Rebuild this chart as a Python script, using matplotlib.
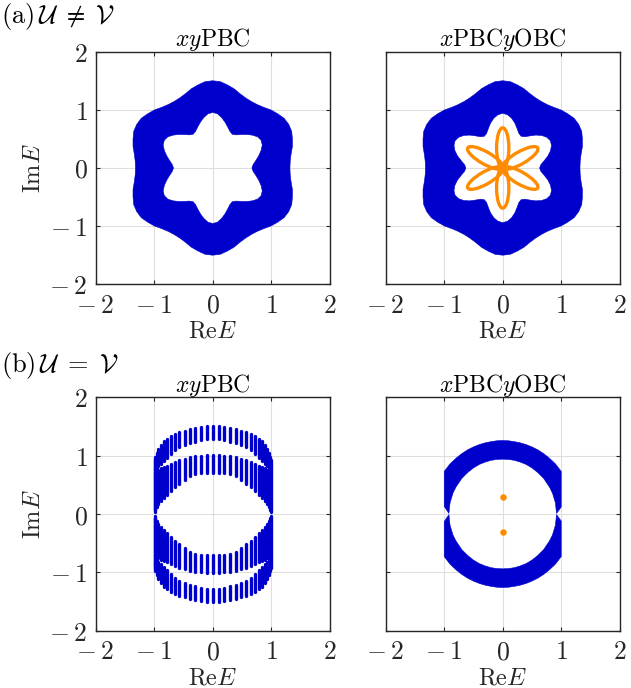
import numpy as np
import matplotlib
matplotlib.use("Agg")
import matplotlib.pyplot as plt
from matplotlib.path import Path
from matplotlib.patches import PathPatch, Ellipse

plt.rcParams["mathtext.fontset"] = "cm"

# === Data ===
ticks = [-2, -1, 0, 1, 2]
tick_labels = [r"$-\:2$", r"$-\:1$", "$0$", "$1$", "$2$"]

# (a) ring boundaries, radius vs polar angle (deg)
angles = np.arange(0, 360, 5)
outer_r = [
    1.32, 1.33, 1.36, 1.41, 1.45, 1.49, 1.50, 1.49, 1.45, 1.41, 1.36, 1.33,
    1.32, 1.33, 1.36, 1.41, 1.45, 1.49, 1.50, 1.49, 1.45, 1.41, 1.36, 1.33,
    1.32, 1.33, 1.36, 1.41, 1.45, 1.49, 1.50, 1.49, 1.45, 1.41, 1.36, 1.33,
    1.32, 1.33, 1.36, 1.41, 1.45, 1.49, 1.50, 1.49, 1.45, 1.41, 1.36, 1.33,
    1.32, 1.33, 1.36, 1.41, 1.45, 1.49, 1.50, 1.49, 1.45, 1.41, 1.36, 1.33,
    1.32, 1.33, 1.36, 1.41, 1.45, 1.49, 1.50, 1.49, 1.45, 1.41, 1.36, 1.33,
]
hole_r_pbc = [
    0.67, 0.695, 0.75, 0.815, 0.88, 0.935, 0.955, 0.935, 0.88, 0.815, 0.75, 0.695,
    0.67, 0.695, 0.75, 0.815, 0.88, 0.935, 0.955, 0.935, 0.88, 0.815, 0.75, 0.695,
    0.67, 0.695, 0.75, 0.815, 0.88, 0.935, 0.955, 0.935, 0.88, 0.815, 0.75, 0.695,
    0.67, 0.695, 0.75, 0.815, 0.88, 0.935, 0.955, 0.935, 0.88, 0.815, 0.75, 0.695,
    0.67, 0.695, 0.75, 0.815, 0.88, 0.935, 0.955, 0.935, 0.88, 0.815, 0.75, 0.695,
    0.67, 0.695, 0.75, 0.815, 0.88, 0.935, 0.955, 0.935, 0.88, 0.815, 0.75, 0.695,
]
hole_r_obc = [
    0.63, 0.655, 0.72, 0.80, 0.87, 0.92, 0.94, 0.92, 0.87, 0.80, 0.72, 0.655,
    0.63, 0.655, 0.72, 0.80, 0.87, 0.92, 0.94, 0.92, 0.87, 0.80, 0.72, 0.655,
    0.63, 0.655, 0.72, 0.80, 0.87, 0.92, 0.94, 0.92, 0.87, 0.80, 0.72, 0.655,
    0.63, 0.655, 0.72, 0.80, 0.87, 0.92, 0.94, 0.92, 0.87, 0.80, 0.72, 0.655,
    0.63, 0.655, 0.72, 0.80, 0.87, 0.92, 0.94, 0.92, 0.87, 0.80, 0.72, 0.655,
    0.63, 0.655, 0.72, 0.80, 0.87, 0.92, 0.94, 0.92, 0.87, 0.80, 0.72, 0.655,
]
# (a) OBC skin-mode petals
petal_angles = [30, 90, 150, 210, 270, 330]
petal_length = 0.69
petal_width = 0.21

# (b) xyPBC: vertical bars (x >= 0 half, spectrum symmetric)
bar_x = [0.0, 0.1, 0.2, 0.3, 0.39, 0.48, 0.57, 0.65, 0.72, 0.79, 0.84, 0.89, 0.93, 0.96, 0.98, 0.995]
outer_lo = [1.28, 1.28, 1.26, 1.24, 1.21, 1.18, 1.14, 1.09, 1.03, 0.96, 0.90, 0.86, 0.82, 0.78, 0.74, 0.70]
outer_hi = [1.50, 1.50, 1.49, 1.47, 1.45, 1.43, 1.40, 1.37, 1.34, 1.29, 1.25, 1.19, 1.12, 1.05, 0.98, 0.93]
inner_lo = [0.71, 0.71, 0.70, 0.68, 0.65, 0.58, 0.52, 0.46, 0.40, 0.33, 0.28, 0.22, 0.17, 0.12, 0.07, 0.03]
inner_hi = [1.01, 1.01, 1.00, 0.99, 0.97, 0.95, 0.92, 0.89, 0.86, 0.83, 0.80, 0.78, 0.76, 0.74, 0.72, 0.70]

# (b) xPBCyOBC: upper band outline (lower band is its mirror)
band_x = [-1.0, -0.9, -0.8, -0.7, -0.6, -0.5, -0.4, -0.3, -0.2, -0.1, 0.0,
          0.1, 0.2, 0.3, 0.4, 0.5, 0.6, 0.7, 0.8, 0.9, 1.0,
          1.0, 0.92,
          0.9, 0.85, 0.8, 0.7, 0.6, 0.5, 0.4, 0.3, 0.2, 0.1, 0.0,
          -0.1, -0.2, -0.3, -0.4, -0.5, -0.6, -0.7, -0.8, -0.85, -0.9,
          -0.92, -1.0]
band_y = [0.73, 0.86, 0.955, 1.035, 1.10, 1.15, 1.19, 1.22, 1.24, 1.255, 1.26,
          1.255, 1.24, 1.22, 1.19, 1.15, 1.10, 1.035, 0.955, 0.86, 0.73,
          0.12, 0.01,
          0.195, 0.36, 0.46, 0.61, 0.71, 0.79, 0.85, 0.89, 0.92, 0.935, 0.94,
          0.935, 0.92, 0.89, 0.85, 0.79, 0.71, 0.61, 0.46, 0.36, 0.195,
          0.01, 0.13]
dots_x = [0.0, 0.0]
dots_y = [0.30, -0.30]

blue = "#0000CC"
orange = "#FF8C00"
dark = "#262626"


def ring(ax, r_out, r_in):
    th = np.deg2rad(angles)
    ro, ri = np.asarray(r_out), np.asarray(r_in)
    outer = np.c_[ro * np.cos(th), ro * np.sin(th)]
    inner = np.c_[ri * np.cos(th), ri * np.sin(th)][::-1]
    n = len(th)
    verts = np.vstack([outer, outer[:1], inner, inner[:1]])
    codes = ([Path.MOVETO] + [Path.LINETO] * (n - 1) + [Path.CLOSEPOLY]) * 2
    ax.add_patch(PathPatch(Path(verts, codes), facecolor=blue, edgecolor=blue, lw=0.4, zorder=2))


def style(ax, title, left_labels):
    ax.set_xlim(-2, 2)
    ax.set_ylim(-2, 2)
    ax.set_xticks(ticks)
    ax.set_yticks(ticks)
    ax.set_xticklabels(tick_labels)
    ax.set_yticklabels(tick_labels)
    ax.tick_params(direction="in", top=True, right=True, length=3, width=0.8,
                   labelsize=18.5, pad=6, colors=dark, labelleft=left_labels)
    ax.grid(True, color="#DEDEDE", linewidth=0.8)
    ax.set_axisbelow(True)
    for s in ax.spines.values():
        s.set_color(dark)
        s.set_linewidth(1.0)
    ax.set_title(title, fontsize=17, pad=4, color="black")
    ax.set_xlabel(r"$\mathrm{Re}E$", fontsize=17.5, labelpad=0, color=dark)
    if left_labels:
        ax.set_ylabel(r"$\mathrm{Im}E$", fontsize=17.5, labelpad=3, color=dark)


fig = plt.figure(figsize=(6.31, 6.88), dpi=100)
ax1 = fig.add_axes([0.1517, 0.5868, 0.3708, 0.3381])
ax2 = fig.add_axes([0.6113, 0.5868, 0.3708, 0.3381])
ax3 = fig.add_axes([0.1517, 0.0833, 0.3708, 0.3392])
ax4 = fig.add_axes([0.6113, 0.0833, 0.3708, 0.3392])

# === (a) U != V ===
ring(ax1, outer_r, hole_r_pbc)
ring(ax2, outer_r, hole_r_obc)
for a in petal_angles:
    t = np.deg2rad(a)
    ax2.add_patch(Ellipse((0.5 * petal_length * np.cos(t), 0.5 * petal_length * np.sin(t)),
                          petal_length, petal_width, angle=a, fill=False,
                          edgecolor=orange, lw=2.4, zorder=3))

# === (b) U = V ===
bx = np.concatenate([-np.array(bar_x[:0:-1]), bar_x])
for lo, hi in [(outer_lo, outer_hi), (inner_lo, inner_hi)]:
    lo_f = np.concatenate([lo[:0:-1], lo])
    hi_f = np.concatenate([hi[:0:-1], hi])
    ax3.vlines(bx, lo_f, hi_f, colors=blue, linewidth=2.4, capstyle="round", zorder=2)
    ax3.vlines(bx, -lo_f, -hi_f, colors=blue, linewidth=2.4, capstyle="round", zorder=2)

ax4.fill(band_x, band_y, color=blue, lw=0.4, zorder=2)
ax4.fill(band_x, -np.array(band_y), color=blue, lw=0.4, zorder=2)
ax4.scatter(dots_x, dots_y, s=22, color=orange, zorder=3, linewidths=0)

style(ax1, r"$xy\mathrm{PBC}$", True)
style(ax2, r"$x\mathrm{PBC}y\mathrm{OBC}$", False)
style(ax3, r"$xy\mathrm{PBC}$", True)
style(ax4, r"$x\mathrm{PBC}y\mathrm{OBC}$", False)

fig.text(0.002, 0.999, r"$(\mathrm{a})\,\mathcal{U}\;\neq\;\mathcal{V}$", fontsize=19, va="top", ha="left")
fig.text(0.002, 0.492, r"$(\mathrm{b})\,\mathcal{U}\;=\;\mathcal{V}$", fontsize=19, va="top", ha="left")

fig.savefig("out.png", dpi=100)
